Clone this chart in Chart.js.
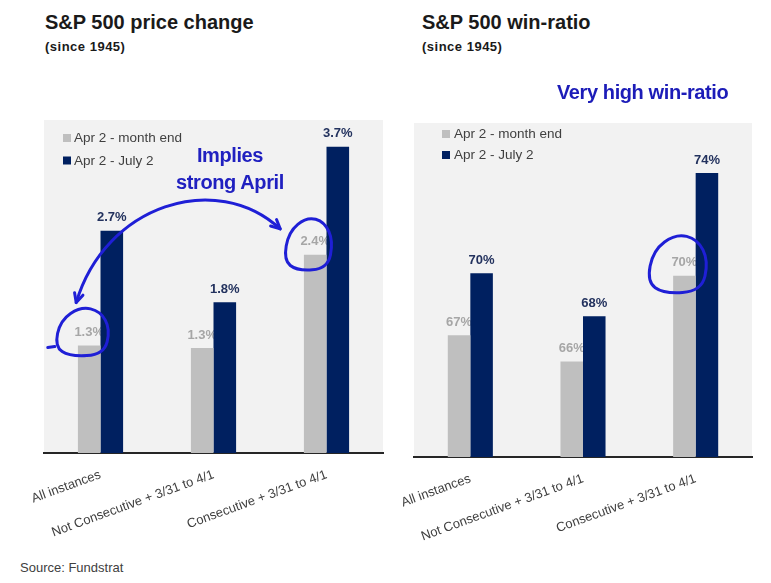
<!DOCTYPE html>
<html><head><meta charset="utf-8">
<script src="https://cdn.jsdelivr.net/npm/chart.js@4.4.0/dist/chart.umd.min.js"></script>
<style>
html,body{margin:0;padding:0;background:#fff;width:771px;height:583px;overflow:hidden;font-family:"Liberation Sans",Arial,sans-serif;}
.t{position:absolute;white-space:nowrap;}
.title{font-size:20px;font-weight:bold;color:#1a1a1a;line-height:20px;}
.sub{font-size:13px;font-weight:bold;color:#1a1a1a;line-height:13px;letter-spacing:0.5px;}
.note{font-size:20px;font-weight:bold;color:#2020c0;line-height:27px;letter-spacing:-0.4px;text-align:center;}
.src{font-size:13px;color:#404040;line-height:13px;}
#c1{position:absolute;left:0;top:100px;}
#c2{position:absolute;left:390px;top:100px;}
</style></head>
<body>
<div class="t title" style="left:45px;top:12px;">S&amp;P 500 price change</div>
<div class="t sub" style="left:45px;top:40px;">(since 1945)</div>
<div class="t title" style="left:422px;top:12px;">S&amp;P 500 win-ratio</div>
<div class="t sub" style="left:422px;top:40px;">(since 1945)</div>
<canvas id="c1" width="390" height="460"></canvas>
<canvas id="c2" width="381" height="460"></canvas>
<div class="t note" style="left:170px;top:142px;width:120px;">Implies<br>strong April</div>
<div class="t note" style="left:557px;top:79px;color:#1c1cb8;">Very high win-ratio</div>
<div class="t src" style="left:20px;top:561px;">Source: Fundstrat</div>
<script>
// ---- data ----
const categories = ["All instances", "Not Consecutive + 3/31 to 4/1", "Consecutive + 3/31 to 4/1"];
const seriesNames = ["Apr 2 - month end", "Apr 2 - July 2"];
const priceMonthEnd = [1.29, 1.26, 2.38];   // % price change, Apr 2 - month end
const priceJuly2    = [2.67, 1.81, 3.68];   // % price change, Apr 2 - July 2
const winMonthEnd   = [67.1, 66.0, 69.6];   // win ratio %, Apr 2 - month end
const winJuly2      = [69.7, 67.9, 73.9];   // win ratio %, Apr 2 - July 2
const priceAxis = {min: 0, max: 4};
const winAxis   = {min: 62, max: 76};

const FONT = '"Liberation Sans", Arial, sans-serif';
const GRAY = '#bfbfbf', NAVY = '#002060';
const INK = '#1f1fd6';

function labelPos(el){ return {x: el.x, y: el.y - 14}; }

function drawLabels(chart, di, color, fmt){
  const ctx = chart.ctx;
  const meta = chart.getDatasetMeta(di);
  const vals = chart.data.datasets[di].data;
  ctx.save();
  ctx.font = 'bold 13px ' + FONT;
  ctx.fillStyle = color;
  ctx.textAlign = 'center';
  ctx.textBaseline = 'alphabetic';
  meta.data.forEach((el, i) => { ctx.fillText(fmt(vals[i]), el.x, el.y - 9.5); });
  ctx.restore();
}

function loop(ctx, cx, cy, rx, ry, tail){
  const pts = [[-0.05,-1],[0.65,-0.82],[1,-0.1],[0.78,0.92],[-0.45,1],[-0.98,0.6],[-0.78,-0.45]]
    .map(p => [cx + p[0]*rx, cy + p[1]*ry]);
  ctx.beginPath();
  const n = pts.length;
  const mid = (a,b) => [(a[0]+b[0])/2,(a[1]+b[1])/2];
  let m0 = mid(pts[n-1], pts[0]);
  ctx.moveTo(m0[0], m0[1]);
  for (let i=0;i<n;i++){
    const p = pts[i], m = mid(p, pts[(i+1)%n]);
    ctx.quadraticCurveTo(p[0], p[1], m[0], m[1]);
  }
  ctx.closePath();
  ctx.stroke();
  if (tail){
    ctx.beginPath();
    ctx.moveTo(cx - 0.98*rx, cy + 0.6*ry);
    ctx.lineTo(cx - 0.98*rx - 7, cy + 0.6*ry + 1);
    ctx.stroke();
  }
}

function arrowHead(ctx, tip, from){
  const ang = Math.atan2(tip.y - from.y, tip.x - from.x);
  const L = 10, s = 0.45;
  ctx.beginPath();
  ctx.moveTo(tip.x - L*Math.cos(ang - s), tip.y - L*Math.sin(ang - s));
  ctx.lineTo(tip.x, tip.y);
  ctx.lineTo(tip.x - L*Math.cos(ang + s), tip.y - L*Math.sin(ang + s));
  ctx.stroke();
}

const decor = {
  id: 'decor',
  beforeDraw(chart, args, o){
    const {ctx, chartArea: a} = chart;
    ctx.save();
    ctx.fillStyle = '#f2f2f2';
    ctx.fillRect(a.left, a.top, a.right - a.left, a.bottom - a.top);
    ctx.restore();
  },
  beforeDatasetsDraw(chart, args, o){
    const ctx = chart.ctx;
    // legend inside plot area
    ctx.save();
    ctx.font = '13.5px ' + FONT;
    ctx.textBaseline = 'middle';
    ctx.textAlign = 'left';
    chart.data.datasets.forEach((ds, i) => {
      const cy = o.legY + i*o.legGap;
      ctx.fillStyle = ds.backgroundColor;
      ctx.fillRect(o.legX, cy - 4, 8, 8);
      ctx.fillStyle = '#404040';
      ctx.fillText(ds.label, o.legTextX, cy + 0.5);
    });
    ctx.restore();
    drawLabels(chart, 0, '#a6a6a6', o.fmt);
  },
  afterDatasetsDraw(chart, args, o){
    drawLabels(chart, 1, '#23325e', o.fmt);
    if (o.annotate){
      const ctx = chart.ctx;
      ctx.save();
      ctx.strokeStyle = INK; ctx.lineWidth = 3; ctx.lineCap = 'round'; ctx.lineJoin = 'round';
      o.annotate(chart, ctx);
      ctx.restore();
    }
  }
};

function makeChart(id, d0, d1, axis, fmt, pad, axisH, decorOpts){
  return new Chart(document.getElementById(id), {
    type: 'bar',
    data: {
      labels: categories,
      datasets: [
        {label: seriesNames[0], data: d0, backgroundColor: GRAY},
        {label: seriesNames[1], data: d1, backgroundColor: NAVY}
      ]
    },
    options: {
      responsive: false,
      animation: false,
      devicePixelRatio: 1,
      categoryPercentage: 0.4,
      barPercentage: 1.0,
      layout: {padding: pad},
      plugins: {legend: {display: false}, tooltip: {enabled: false}, decor: Object.assign({fmt}, decorOpts)},
      scales: {
        y: {display: false, min: axis.min, max: axis.max},
        x: {
          grid: {display: false},
          border: {display: true, color: '#262626', width: 2},
          ticks: {color: '#404040', font: {family: FONT, size: 13}, minRotation: 20, maxRotation: 20, autoSkip: false, padding: 6},
          afterFit(scale){ scale.height = axisH; }
        }
      }
    },
    plugins: [decor]
  });
}

makeChart('c1', priceMonthEnd, priceJuly2, priceAxis, v => v.toFixed(1) + '%',
  {left: 44, right: 7, top: 20, bottom: 0}, 107,
  {legX: 63, legTextX: 74, legY: 38, legGap: 22.5,
   annotate(chart, ctx){
     const g = chart.getDatasetMeta(0).data;
     const l0 = labelPos(g[0]), l2 = labelPos(g[2]);
     loop(ctx, l0.x - 7, l0.y, 28, 25, true);
     loop(ctx, l2.x - 7, l2.y + 3, 25, 27, false);
     const P0 = {x: l0.x - 13, y: l0.y - 29}, P3 = {x: l2.x - 35, y: l2.y - 12};
     const P1 = {x: P0.x + 29, y: P0.y - 98}, P2 = {x: P3.x - 64, y: P3.y - 59};
     ctx.beginPath();
     ctx.moveTo(P0.x, P0.y);
     ctx.bezierCurveTo(P1.x, P1.y, P2.x, P2.y, P3.x, P3.y);
     ctx.stroke();
     arrowHead(ctx, P0, P1);
     arrowHead(ctx, P3, P2);
   }});

makeChart('c2', winMonthEnd, winJuly2, winAxis, v => Math.round(v) + '%',
  {left: 24, right: 19, top: 23, bottom: 0}, 103,
  {legX: 52, legTextX: 64, legY: 34, legGap: 21,
   annotate(chart, ctx){
     const g = chart.getDatasetMeta(0).data;
     const l2 = labelPos(g[2]);
     loop(ctx, l2.x - 7, l2.y + 2, 31, 30, false);
   }});
</script>
</body></html>
